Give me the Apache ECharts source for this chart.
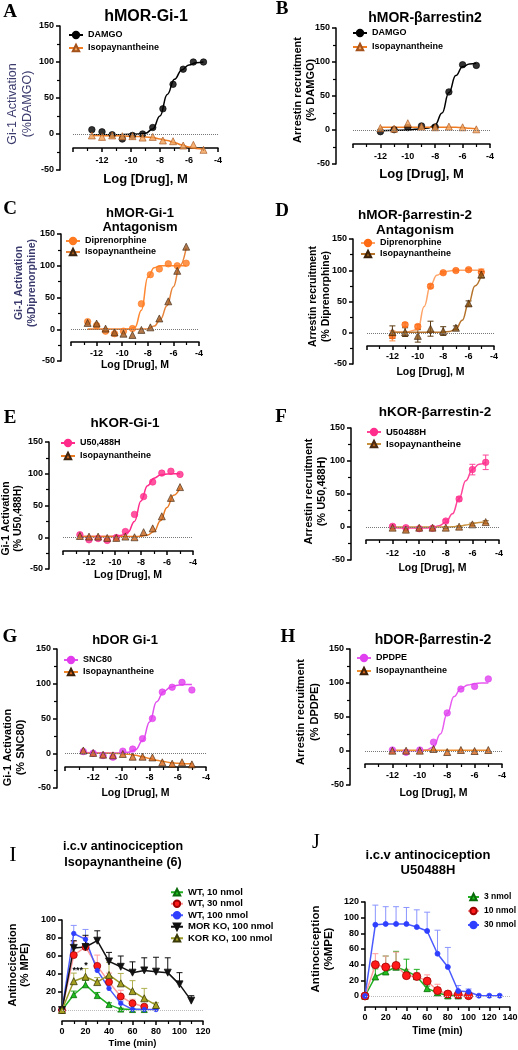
<!DOCTYPE html>
<html><head><meta charset="utf-8">
<script src="https://cdn.jsdelivr.net/npm/echarts@6/dist/echarts.min.js"></script>
<style>html,body{margin:0;padding:0;background:#fff}#c{width:518px;height:1050px}</style>
</head><body><div id="c"></div>
<script>
// ================= DATA =================
// dose axes
const doseAxisMin = -14, doseAxisMax = -4, doseAxisStep = 2;
const doseYMin = -50, doseYMax = 150, doseYStep = 50;
const logDoseFine = [-12.7,-12.0,-11.3,-10.6,-9.9,-9.2,-8.5,-7.8,-7.1,-6.4,-5.7,-5.0];
const logDoseWhole = [-12,-11,-10,-9,-8,-7,-6,-5];
const curveXFine = [-12.7,-11,-10,-9.5,-9,-8.5,-8,-7.5,-7,-6.5,-6,-5.5,-5];
const curveXWhole = [-12,-11,-10,-9.5,-9,-8.5,-8,-7.5,-7,-6.5,-6,-5.5,-5];

// A hMOR-Gi-1
const aDamgo = [6,3,-1,-7,-2,0,9,35,69,90,100,100];
const aIso = [-2,-4,-2,-3,-3,-5,-4,-9,-10,-16,-15,-22];
const aDamgoFit = [-1,-1,-0.5,0,1,7,25,55,76,89,96,99,100];
const aIsoFit = [-2,-2.5,-3,-3.5,-4,-5,-7,-9,-12,-15,-18,-20,-21];
// B hMOR-barrestin2
const bDamgo = [-2.5,0.5,3.5,6,4.5,56,96,95];
const bIso = [3,2,10,5,4,5,4,1];
const bDamgoFit = [-1,-0.5,0,1,2,3,8,25,55,80,93,97,98];
const bIsoFit = [4,4,4,4,4,4,4,4,4,4,3.5,2.5,2];
// C hMOR-Gi-1 antagonism
const cDip = [12,6,-3,-7,-3,1,40,86,95,103,100,104];
const cIso = [10,9,1,-5,-7,-9,-1,3,17,44,92,130];
const cDipFit = [0,0,0,0.5,3,30,82,97,100,100,100,100,100];
const cIsoFit = [0,0,0,0,0,0.2,0.5,5,16,37,67,100,128];
// D hMOR-barrestin-2 antagonism
const dDip = [-5,13,10,74.5,96,99.5,101,97];
const dDipErr = [8,3,3,3,2,2,2,5];
const dIso = [1,1,-5,6.5,2.7,8,47,93];
const dIsoErr = [10,7,10,12,7,3,4,5];
const dDipFit = [1,1,5,42,76,92,97,99,100,100,100,100,100];
const dIsoFit = [1,1,1,1,1,1,1,2,6,20,47,75,92];
// E hKOR-Gi-1
const eU50 = [4,-4,-2,-5,-0.5,9,36,64,87,101,104,99];
const eIso = [2,1,1,-1,-1,1,0,8,14,33,62,79];
const eU50Fit = [1,1,1.5,3,8,25,57,81,93,98,99.5,100,100];
const eIsoFit = [1,1,1,1,1,1,1.5,3.5,9,26,47,66,78];
// F hKOR-barrestin-2
const fU50 = [1,-1,-2.5,-2,9,42.5,87,98];
const fU50Err = [2,2,2,2,2,3,8,11];
const fIso = [-1,-4,-1,-1,-1,0.5,4,7.5];
const fIsoErr = [1,2,1,1,1,1,2,2];
const fU50Fit = [-1,-1.5,-1.5,-1.5,-1,2,7,20,43,70,87,95,98];
const fIsoFit = [0,0,0,0,0,0,0,0.3,1,3,5,7,8];
// G hDOR Gi-1
const gSnc = [2.4,0,-3.3,-5.7,3,6,21,50,88,95,102,91];
const gIso = [4,0.5,-2,-3,-1,-5,-5,-6,-13,-15,-13,-16];
const gSncFit = [1,0.5,0.5,1.5,5,18,45,74,89,95,98,99,99];
const gIsoFit = [0,0,-0.5,-1.5,-3,-5,-7.5,-10,-12,-13.5,-14.5,-15,-15];
// H hDOR-barrestin-2
const hDpdpe = [1.5,-2,1.5,13,56,91,95,106];
const hIso = [0.5,0.5,0.5,3,-1.5,1.5,0,1.5];
const hDpdpeFit = [0.5,0.5,0.5,1.5,6,25,55,80,92,97,99,100,100];
const hIsoFit = [1,1,1,1,1,1,1,1,1,1,1,1,1];

// I i.c.v antinociception isopaynantheine
const timeI = [0,10,20,30,40,50,60,70,80,90,100,110];
const iWT10 = [0,17,28,16,6,1,0.5,0.5];
const iWT10Err = [0,4,5,3.5,2,1,0.5,0.5];
const iWT30 = [0,61,70,49,31,15,7.4,3.7];
const iWT30Err = [0,15,11,12,10,7,4.5,2.6];
const iWT100 = [0,85,78.5,44,24,7.4,0.7,0.5,0.5];
const iWT100Err = [0,9,11,6,4,2.6,1,0.5,0.5];
const iMORKO = [0,69,70,77,54,48,41.5,44,42.6,41.5,28.5,10.4];
const iMORKOErr = [0,8,13,11,10,12,12,14,16,16.5,13,5.5];
const iKORKO = [0,32,37,31,39,29.6,21,13,5.5];
const iKORKOErr = [0,9,9,5,14,11,11.6,11,2.5];
const iStars = [['***',13.5,44],['*',20.5,49]];
// J i.c.v antinociception U50488H
const timeJ = [0,10,20,30,40,50,60,70,80,90,100,110,120,130];
const j3 = [0,24.6,31,37,32,25,9.7,4.2,0.4,0.4];
const j3Err = [0,10,20,20,15,9,3,3,1,1];
const j10 = [0,40,37,39,26,25,19,7,2.5,1.7,0.4];
const j10Err = [0,14,14,17,8,5,8,8,2,1,1];
const j30 = [0,91,92,92,92,88,83,54,37,6.4,5.5,0.4,0.4,0.4];
const j30Err = [0,25,22,22,21,22,24,30,25,7,3.5,0,0,0];

// ================= LAYOUT / STYLE =================
const FONT = '"Liberation Sans", Arial, Helvetica, sans-serif';
const SERIF = '"Liberation Serif", "Times New Roman", serif';
const NAVY = '#3b3b6e';
const doseXName = 'Log [Drug], M';

const dosePanels = [
 {key:'A', grid:{left:73,top:26,width:145,height:144}, yOff:13, xOff:-22, xs:logDoseFine, cx:curveXFine,
  title:'hMOR-Gi-1', tPos:[146,17], tSize:16, tLH:18, letter:'A', lPos:[10,12],
  yName:'Gi-1 Activation\n(%DAMGO)', yColor:NAVY, ySize:12.5, yWeight:'normal', yLH:15, yGap:25, yPad:[0,12,0,0],
  xNameSize:13, xNameGap:25, xLabMargin:8,
  leg:{left:68,top:29,lh:12,gap:1,size:9},
  sets:[{name:'DAMGO', pts:aDamgo, fit:aDamgoFit, sym:'circle', size:6.5, fill:'#000', border:'#000', line:'#000'},
        {name:'Isopaynantheine', pts:aIso, fit:aIsoFit, sym:'triangle', size:7, fill:'#f4a055', border:'#a4521c', line:'#f07d22'}]},
 {key:'B', grid:{left:353,top:28,width:137,height:136}, yOff:17, xOff:-20, xs:logDoseWhole, cx:curveXWhole,
  title:'hMOR-\u03B2arrestin2', tPos:[425,18], tSize:14, tLH:16, letter:'B', lPos:[282,9],
  yName:'Arrestin recruitment\n(% DAMGO)', yColor:'#000', ySize:11, yWeight:'bold', yLH:13, yGap:19, yPad:[0,0,0,12],
  xNameSize:13, xNameGap:24, xLabMargin:8,
  leg:{left:352,top:27,lh:12,gap:2,size:9},
  sets:[{name:'DAMGO', pts:bDamgo, fit:bDamgoFit, sym:'circle', size:6.5, fill:'#000', border:'#000', line:'#000'},
        {name:'Isopaynantheine', pts:bIso, fit:bIsoFit, sym:'triangle', size:7, fill:'#f4a055', border:'#a4521c', line:'#f07d22'}]},
 {key:'C', grid:{left:71,top:234,width:128,height:127}, yOff:10, xOff:-19, xs:logDoseFine, cx:curveXFine,
  title:'hMOR-Gi-1\nAntagonism', tPos:[140,220], tSize:13, tLH:14, letter:'C', lPos:[10,209],
  yName:'Gi-1 Activation\n(%Diprenorphine)', yColor:NAVY, ySize:10.5, yWeight:'bold', yLH:13, yGap:22, yPad:[0,0,0,29],
  xNameSize:10.5, xNameGap:18, xLabMargin:7,
  leg:{left:65,top:235.5,lh:11,gap:0,size:9},
  sets:[{name:'Diprenorphine', pts:cDip, fit:cDipFit, sym:'circle', size:6.5, fill:'#ff7a1f', border:'#ff7a1f', line:'#ff8833'},
        {name:'Isopaynantheine', pts:cIso, fit:cIsoFit, sym:'triangle', size:7, fill:'#a0581e', border:'#3a2410', line:'#e8843a'}]},
 {key:'D', grid:{left:367,top:239,width:127,height:125}, yOff:14, xOff:-18, xs:logDoseWhole, cx:curveXWhole,
  title:'hMOR-\u03B2arrestin-2\nAntagonism', tPos:[415,222.5], tSize:13.5, tLH:15, letter:'D', lPos:[282,211],
  yName:'Arrestin recruitment\n(% Diprenorphine)', yColor:'#000', ySize:10.5, yWeight:'bold', yLH:13, yGap:20, yPad:[0,0,0,10],
  xNameSize:10.5, xNameGap:21, xLabMargin:6,
  leg:{left:360,top:237.5,lh:11,gap:0,size:9},
  sets:[{name:'Diprenorphine', pts:dDip, err:dDipErr, errColor:'#ff8a40', fit:dDipFit, sym:'circle', size:6.5, fill:'#ff6a13', border:'#ff6a13', line:'#ffa468'},
        {name:'Isopaynantheine', pts:dIso, err:dIsoErr, errColor:'#5a3a12', fit:dIsoFit, sym:'triangle', size:7, fill:'#8a5414', border:'#3a2008', line:'#b5732c'}]},
 {key:'E', grid:{left:63,top:442,width:130,height:127}, yOff:14, xOff:-18, xs:logDoseFine, cx:curveXFine,
  title:'hKOR-Gi-1', tPos:[125,423], tSize:13.5, tLH:16, letter:'E', lPos:[10,418],
  yName:'Gi-1 Activation\n(% U50,488H)', yColor:'#000', ySize:10.5, yWeight:'bold', yLH:12, yGap:25, yPad:[0,26,0,0],
  xNameSize:10.5, xNameGap:19, xLabMargin:7,
  leg:{left:60,top:437,lh:12,gap:1,size:9},
  sets:[{name:'U50,488H', pts:eU50, fit:eU50Fit, sym:'circle', size:6.5, fill:'#ff2a8a', border:'#ff2a8a', line:'#ff2a8a'},
        {name:'Isopaynantheine', pts:eIso, fit:eIsoFit, sym:'triangle', size:7, fill:'#c8641c', border:'#3c2410', line:'#e87a24'}]},
 {key:'F', grid:{left:366,top:428,width:133,height:132}, yOff:15, xOff:-20, xs:logDoseWhole, cx:curveXWhole,
  title:'hKOR-\u03B2arrestin-2', tPos:[435,412], tSize:13.5, tLH:16, letter:'F', lPos:[281,417],
  yName:'Arrestin recruitment\n(% U50,488H)', yColor:'#000', ySize:11, yWeight:'bold', yLH:13, yGap:23, yPad:[0,0,0,5],
  xNameSize:10.5, xNameGap:23, xLabMargin:9,
  leg:{left:366,top:426,lh:12,gap:0,size:9.5},
  sets:[{name:'U50488H', pts:fU50, err:fU50Err, errColor:'#ff4499', fit:fU50Fit, sym:'circle', size:6.5, fill:'#ff2d8c', border:'#ff2d8c', line:'#ff4499'},
        {name:'Isopaynantheine', pts:fIso, err:fIsoErr, errColor:'#8a5a20', fit:fIsoFit, sym:'triangle', size:7, fill:'#b8641e', border:'#4a2a10', line:'#c8913e'}]},
 {key:'G', grid:{left:65,top:649,width:141,height:139}, yOff:8, xOff:-21, xs:logDoseFine, cx:curveXFine,
  title:'hDOR Gi-1', tPos:[125,640], tSize:13, tLH:16, letter:'G', lPos:[10,637],
  yName:'Gi-1 Activation\n(% SNC80)', yColor:'#000', ySize:11, yWeight:'bold', yLH:13, yGap:30, yPad:[0,58,0,0],
  xNameSize:10.5, xNameGap:21, xLabMargin:6,
  leg:{left:63,top:654,lh:12,gap:0,size:9},
  sets:[{name:'SNC80', pts:gSnc, fit:gSncFit, sym:'circle', size:6.5, fill:'#e23cee', border:'#e23cee', line:'#e14ef0'},
        {name:'Isopaynantheine', pts:gIso, fit:gIsoFit, sym:'triangle', size:7, fill:'#d8661a', border:'#3c2008', line:'#f08428'}]},
 {key:'H', grid:{left:365,top:649,width:137,height:136}, yOff:15, xOff:-21, xs:logDoseWhole, cx:curveXWhole,
  title:'hDOR-\u03B2arrestin-2', tPos:[433,640], tSize:14, tLH:16, letter:'H', lPos:[288,637],
  yName:'Arrestin recruitment\n(% DPDPE)', yColor:'#000', ySize:11, yWeight:'bold', yLH:14, yGap:28, yPad:[0,0,0,10],
  xNameSize:10.5, xNameGap:24, xLabMargin:7,
  leg:{left:356,top:652,lh:12,gap:1,size:9},
  sets:[{name:'DPDPE', pts:hDpdpe, fit:hDpdpeFit, sym:'circle', size:6.5, fill:'#e040f0', border:'#e040f0', line:'#e85af0'},
        {name:'Isopaynantheine', pts:hIso, fit:hIsoFit, sym:'triangle', size:7, fill:'#d8661a', border:'#3c2008', line:'#f09030'}]}
];

const timePanels = [
 {key:'I', grid:{left:62,top:920,width:141,height:90}, xOff:11, xMax:120, yMax:100, times:timeI,
  title:'i.c.v antinociception\nIsopaynantheine (6)', tPos:[123,855], tSize:12.5, tLH:16, letter:'I', lPos:[13,855], lSize:22,
  yName:'Antinociception\n(% MPE)', ySize:11, yLH:12, yGap:31, xNameSize:9.5, xNameGap:17, xLabMargin:6,
  leg:{left:170,top:886.5,lh:11.5,gap:0,size:9.5,w:12},
  stars:iStars,
  sets:[{name:'WT, 10 nmol', pts:iWT10, err:iWT10Err, errColor:'#22b022', sym:'triangle', size:6, fill:'#1fbf1f', border:'#0a6a0a', line:'#22b022'},
        {name:'WT, 30 nmol', pts:iWT30, err:iWT30Err, errColor:'#ff9a9a', sym:'circle', size:7, fill:'#ff1a1a', border:'#a00000', line:'#ff9a9a'},
        {name:'WT, 100 nmol', pts:iWT100, err:iWT100Err, errColor:'#8a94ff', sym:'circle', size:4.5, fill:'#2f3fff', border:'#2f3fff', line:'#4a5aff'},
        {name:'MOR KO, 100 nmol', pts:iMORKO, err:iMORKOErr, errColor:'#111', sym:'triangle', rot:180, size:7, fill:'#111', border:'#111', line:'#111'},
        {name:'KOR KO, 100 nmol', pts:iKORKO, err:iKORKOErr, errColor:'#b0b050', sym:'triangle', size:7, fill:'#a6a020', border:'#3a3a08', line:'#9a9a28'}]},
 {key:'J', grid:{left:365,top:902,width:145,height:94}, xOff:11, xMax:140, yMax:120, times:timeJ,
  title:'i.c.v antinociception\nU50488H', tPos:[428,862.5], tSize:13, tLH:15, letter:'J', lPos:[316,843], lSize:20,
  yName:'Antinociception\n(%MPE)', ySize:11.5, yLH:13, yGap:30, xNameSize:10, xNameGap:19, xLabMargin:6,
  leg:{left:467,top:891,lh:12,gap:2,size:8.5,w:11},
  sets:[{name:'3 nmol', pts:j3, err:j3Err, errColor:'#22b022', sym:'triangle', size:6.5, fill:'#1fbf1f', border:'#0a6a0a', line:'#22b022'},
        {name:'10 nmol', pts:j10, err:j10Err, errColor:'#ff9a9a', sym:'circle', size:8, fill:'#ff1a1a', border:'#a00000', line:'#ff9a9a'},
        {name:'30 nmol', pts:j30, err:j30Err, errColor:'#8a94ff', sym:'circle', size:5, fill:'#2f3fff', border:'#2f3fff', line:'#4a5aff'}]}
];

// ================= BUILD =================
const option = {animation:false, backgroundColor:'#fff', title:[], legend:[], grid:[], xAxis:[], yAxis:[], series:[]};
const axisLineStyle = {show:true, onZero:false, lineStyle:{color:'#000', width:1.5}};
const tickStyle = {show:true, length:4, lineStyle:{color:'#000', width:1.5}};
const minorStyle = {show:true, splitNumber:2, length:3, lineStyle:{color:'#000', width:1.2}};
const labelStyle = m => ({margin:m, fontFamily:FONT, fontSize:9, fontWeight:'bold', color:'#000'});
const zeroLine = color => ({silent:true, symbol:'none', label:{show:false}, emphasis:{disabled:true},
  lineStyle:{type:'dotted', color:color, width:1}, data:[{yAxis:0}]});
const stripName = n => n.split('#')[0];

function errorSeries(xs, ys, errs, gi, color, upOnly, cap) {
  return {type:'custom', xAxisIndex:gi, yAxisIndex:gi, silent:true, z:2, clip:false,
    data: ys.map((y,k)=>[xs[k], y, errs[k]]),
    renderItem(params, api) {
      const x = api.value(0), y = api.value(1), e = api.value(2);
      if (!e) return null;
      const t = api.coord([x, y + e]);
      const b = api.coord([x, upOnly ? y : y - e]);
      const st = {stroke:color, lineWidth:1};
      const ch = [{type:'line', shape:{x1:t[0],y1:t[1],x2:b[0],y2:b[1]}, style:st},
                  {type:'line', shape:{x1:t[0]-cap,y1:t[1],x2:t[0]+cap,y2:t[1]}, style:st}];
      if (!upOnly) ch.push({type:'line', shape:{x1:b[0]-cap,y1:b[1],x2:b[0]+cap,y2:b[1]}, style:st});
      return {type:'group', children:ch};
    }};
}

function addTitles(p) {
  option.title.push({text:p.title, left:p.tPos[0], top:p.tPos[1], textAlign:'center', textVerticalAlign:'middle', padding:0,
    textStyle:{fontFamily:FONT, fontSize:p.tSize, fontWeight:'bold', color:'#000', lineHeight:p.tLH}});
  const serifBold = !(p.key === 'I' || p.key === 'J');
  option.title.push({text:p.letter, left:p.lPos[0], top:p.lPos[1], textAlign:'center', textVerticalAlign:'middle', padding:0,
    textStyle:{fontFamily:SERIF, fontSize:p.lSize || 19, fontWeight: serifBold ? 'bold' : 'normal', color:'#000'}});
}

function addLegend(p) {
  option.legend.push({left:p.leg.left, top:p.leg.top, orient:'vertical', padding:0, itemGap:p.leg.gap,
    itemWidth:p.leg.w || 14, itemHeight:8, selectedMode:false, data:p.sets.map(s=>s.name+'#'+p.key), formatter:stripName,
    textStyle:{fontFamily:FONT, fontSize:p.leg.size, fontWeight:'bold', color:'#000', lineHeight:p.leg.lh}});
}

dosePanels.forEach((p, gi) => {
  option.grid.push(Object.assign({outerBoundsMode:'none', containLabel:false}, p.grid));
  option.xAxis.push({type:'value', gridIndex:gi, min:doseAxisMin, max:doseAxisMax, interval:doseAxisStep, offset:p.xOff,
    axisLine:axisLineStyle, axisTick:tickStyle, minorTick:minorStyle, splitLine:{show:false}, minorSplitLine:{show:false},
    axisLabel:Object.assign({showMinLabel:false}, labelStyle(p.xLabMargin)),
    name:doseXName, nameLocation:'middle', nameGap:p.xNameGap, nameMoveOverlap:false,
    nameTextStyle:{fontFamily:FONT, fontSize:p.xNameSize, fontWeight:'bold', color:'#000'}});
  option.yAxis.push({type:'value', gridIndex:gi, min:doseYMin, max:doseYMax, interval:doseYStep, offset:p.yOff,
    axisLine:axisLineStyle, axisTick:tickStyle, minorTick:minorStyle, splitLine:{show:false}, minorSplitLine:{show:false},
    axisLabel:labelStyle(6),
    name:p.yName, nameLocation:'middle', nameRotate:90, nameGap:p.yGap, nameMoveOverlap:false,
    nameTextStyle:{fontFamily:FONT, fontSize:p.ySize, fontWeight:p.yWeight, color:p.yColor, lineHeight:p.yLH, padding:p.yPad}});
  p.sets.forEach((s, k) => {
    const itemStyle = {color:s.fill, borderColor:s.border, borderWidth:0.8};
    option.series.push({type:'line', name:s.name+'#'+p.key, xAxisIndex:gi, yAxisIndex:gi,
      data:p.cx.map((x,i)=>[x, s.fit[i]]), smooth:0.45, smoothMonotone:'x', showSymbol:false,
      symbol:s.sym, symbolSize:s.size, itemStyle:itemStyle, lineStyle:{color:s.line, width:1.5},
      z:2, silent:true, emphasis:{disabled:true}, markLine: k === 0 ? zeroLine('#777') : undefined});
    if (s.err) option.series.push(errorSeries(p.xs, s.pts, s.err, gi, s.errColor, false, 3));
    option.series.push({type:'scatter', name:s.name+'@'+p.key, xAxisIndex:gi, yAxisIndex:gi,
      data:p.xs.map((x,i)=>[x, s.pts[i]]), symbol:s.sym, symbolSize:s.size, itemStyle:itemStyle,
      z:3, silent:true, emphasis:{disabled:true}});
  });
  addTitles(p); addLegend(p);
});

timePanels.forEach((p, j) => {
  const gi = dosePanels.length + j;
  option.grid.push(Object.assign({outerBoundsMode:'none', containLabel:false}, p.grid));
  option.xAxis.push({type:'value', gridIndex:gi, min:0, max:p.xMax, interval:20, offset:p.xOff,
    axisLine:axisLineStyle, axisTick:tickStyle, minorTick:minorStyle, splitLine:{show:false}, minorSplitLine:{show:false},
    axisLabel:labelStyle(p.xLabMargin),
    name:'Time (min)', nameLocation:'middle', nameGap:p.xNameGap, nameMoveOverlap:false,
    nameTextStyle:{fontFamily:FONT, fontSize:p.xNameSize, fontWeight:'bold', color:'#000'}});
  option.yAxis.push({type:'value', gridIndex:gi, min:0, max:p.yMax, interval:20,
    axisLine:axisLineStyle, axisTick:tickStyle, splitLine:{show:false},
    axisLabel:labelStyle(6),
    name:p.yName, nameLocation:'middle', nameRotate:90, nameGap:p.yGap, nameMoveOverlap:false,
    nameTextStyle:{fontFamily:FONT, fontSize:p.ySize, fontWeight:'bold', color:'#000', lineHeight:p.yLH}});
  p.sets.forEach((s, k) => {
    option.series.push(errorSeries(p.times, s.pts, s.err, gi, s.errColor, true, 3));
    const ser = {type:'line', name:s.name+'#'+p.key, xAxisIndex:gi, yAxisIndex:gi,
      data:s.pts.map((y,i)=>[p.times[i], y]), showSymbol:true, symbol:s.sym, symbolSize:s.size, symbolRotate:s.rot || 0,
      itemStyle:{color:s.fill, borderColor:s.border, borderWidth:0.8}, lineStyle:{color:s.line, width:1.5},
      z:3, silent:true, emphasis:{disabled:true}};
    if (k === 0) ser.markLine = zeroLine('#bbb');
    if (p.stars && k === 1) {
      ser.markPoint = {silent:true, symbol:'circle', symbolSize:0,
        label:{show:true, position:'inside', formatter:q=>q.name, fontFamily:FONT, fontSize:9, fontWeight:'bold', color:'#000'},
        data:p.stars.map(st=>({name:st[0], coord:[st[1], st[2]]}))};
    }
    option.series.push(ser);
  });
  addTitles(p); addLegend(p);
});

const chart = echarts.init(document.getElementById('c'), null, {renderer:'canvas'});
chart.setOption(option);
</script>
</body></html>
